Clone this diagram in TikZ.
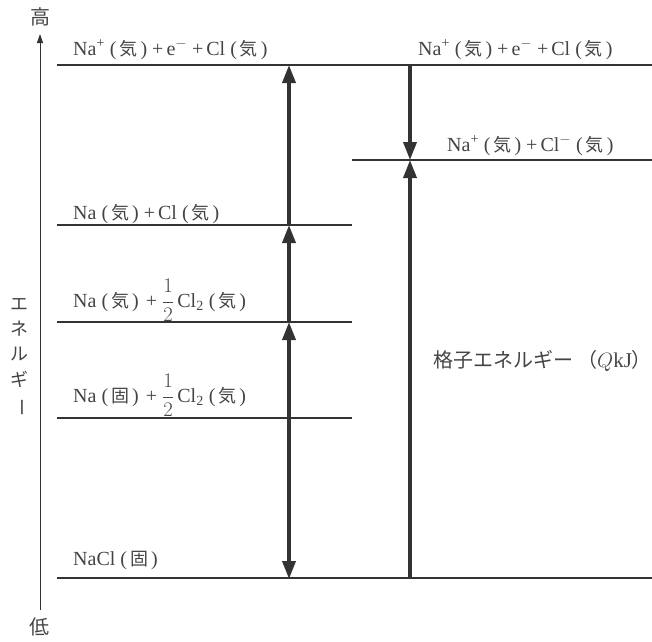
\documentclass[tikz,border=0pt]{standalone}
\usepackage{fontspec}
\setmainfont{Liberation Serif}
\newfontfamily\cjk{Noto Sans CJK JP}
\usetikzlibrary{arrows.meta}
\newcommand{\kj}[1]{\hspace{5pt}(\hspace{3pt}{\cjk\fontsize{18}{18}\selectfont #1}\hspace{3pt})}
\newcommand{\pl}{\hspace{5pt}+\hspace{3pt}}
\newcommand{\half}{$\displaystyle\frac{1}{2}$}
\definecolor{ink}{HTML}{333333}
\definecolor{txt}{HTML}{444444}
\tikzset{
  level/.style={draw=ink, line width=1.2pt},
  bigarrow/.style={draw=ink, line width=3.6pt, -{Triangle[length=18pt,width=13pt]}},
  dblarrow/.style={draw=ink, line width=3.6pt, {Triangle[length=18pt,width=13pt]}-{Triangle[length=18pt,width=13pt]}},
  axisarrow/.style={draw=ink, line width=1pt, -{Triangle[length=9pt,width=6pt]}},
  lab/.style={text=txt, font=\fontsize{20}{20}\selectfont, inner sep=0pt, anchor=base west},
  jlab/.style={text=txt, font=\cjk\fontsize{18}{18}\selectfont, inner sep=0pt}
}
\begin{document}
\begin{tikzpicture}[x=1pt,y=-1pt]
\useasboundingbox (0,0) rectangle (652,641);
% axis
\coordinate (axb) at (40,610);
\coordinate (axt) at (40,34);
\draw[axisarrow] (axb) -- (axt);
\node[jlab, font=\cjk\fontsize{20}{20}\selectfont] (hi) at (40,17) {高};
\node[jlab, font=\cjk\fontsize{20}{20}\selectfont] (lo) at (39,627) {低};
\node[jlab] (e1) at (19,304) {エ};
\node[jlab] (e2) at (19,329) {ネ};
\node[jlab] (e3) at (19,354) {ル};
\node[jlab] (e4) at (19,379) {ギ};
\node[jlab, rotate=-90] (e5) at (19,407) {ー};
% levels
\draw[level] (57,65) coordinate (l1a) -- (652,65) coordinate (l1b);
\draw[level] (352,160) coordinate (l2a) -- (652,160) coordinate (l2b);
\draw[level] (57,225) coordinate (l3a) -- (352,225) coordinate (l3b);
\draw[level] (57,322) coordinate (l4a) -- (352,322) coordinate (l4b);
\draw[level] (57,418) coordinate (l5a) -- (352,418) coordinate (l5b);
\draw[level] (57,578) coordinate (l6a) -- (652,578) coordinate (l6b);
% labels
\node[lab] (t1) at (73,55) {Na\textsuperscript{+}\kj{気}\pl e\textsuperscript{$-$}\pl Cl\kj{気}};
\node[lab] (t1r) at (418,55) {Na\textsuperscript{+}\kj{気}\pl e\textsuperscript{$-$}\pl Cl\kj{気}};
\node[lab] (t2) at (447,151) {Na\textsuperscript{+}\kj{気}\pl Cl\textsuperscript{$-$}\kj{気}};
\node[lab] (t3) at (73,219) {Na\kj{気}\pl Cl\kj{気}};
\node[lab] (t4) at (73,307) {Na\kj{気}\hspace{7pt}+\hspace{5pt}\half\,Cl\textsubscript{2}\kj{気}};
\node[lab] (t5) at (73,402) {Na\kj{固}\hspace{7pt}+\hspace{5pt}\half\,Cl\textsubscript{2}\kj{気}};
\node[lab] (t6) at (73,565) {NaCl\kj{固}};
\node[text=txt, inner sep=0pt, anchor=base west] (qk) at (433,367) {{\cjk\fontsize{20}{20}\selectfont 格子エネルギー\hspace{4pt}（}{\fontsize{21}{21}\selectfont $Q$kJ}{\cjk\fontsize{20}{20}\selectfont ）}};
% arrows left column
\coordinate (a6) at (289,579);
\coordinate (a4) at (289,322);
\coordinate (a3) at (289,225);
\coordinate (a1) at (289,65);
\draw[dblarrow] (a6) -- (a4);
\draw[bigarrow] (a4) -- (a3);
\draw[bigarrow] (a3) -- (a1);
% arrows right column
\coordinate (b1) at (410,65);
\coordinate (b2) at (410,160);
\coordinate (b6) at (410,578);
\draw[bigarrow] (b1) -- (b2);
\draw[bigarrow] (b6) -- (b2);
\end{tikzpicture}
\end{document}
